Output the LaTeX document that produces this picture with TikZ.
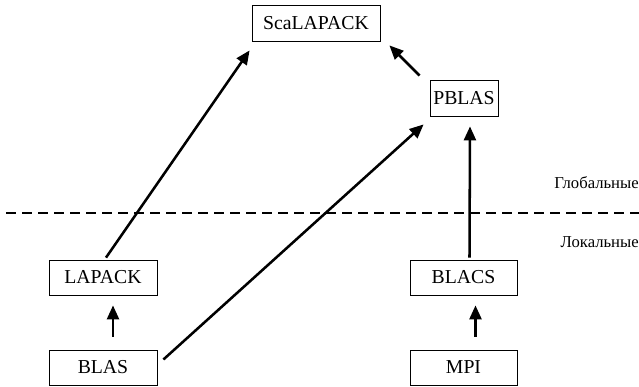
\documentclass[tikz,border=0pt]{standalone}
\usepackage{fontspec}
\setmainfont{Liberation Serif}
\usetikzlibrary{arrows.meta,calc}
\begin{document}
\begin{tikzpicture}[x=0.75pt,y=-0.75pt,
  box/.style={draw,line width=0.6pt,inner sep=0pt,font=\fontsize{14.8}{17}\selectfont},
  arr/.style={line width=1.9pt,-{Triangle[length=10.5pt,width=9pt]}},
  lbl/.style={font=\fontsize{12.5}{15}\selectfont,anchor=east,inner sep=0pt}]
\useasboundingbox (0,0) rectangle (639,386);
\node[box,minimum width=128*0.75pt,minimum height=36*0.75pt] (sca) at (316,23) {ScaLAPACK};
\node[box,minimum width=68*0.75pt,minimum height=36*0.75pt] (pblas) at (464,98) {PBLAS};
\node[box,minimum width=108*0.75pt,minimum height=35*0.75pt] (lapack) at (103,277.5) {LAPACK};
\node[box,minimum width=108*0.75pt,minimum height=35*0.75pt] (blas) at (103,367.5) {BLAS};
\node[box,minimum width=107*0.75pt,minimum height=35*0.75pt] (blacs) at (463.5,277.5) {BLACS};
\node[box,minimum width=107*0.75pt,minimum height=35*0.75pt] (mpi) at (463.5,367.5) {MPI};
\node[lbl] (glob) at (639,183) {Глобальные};
\node[lbl] (loc) at (639,242) {Локальные};
\coordinate (dl) at (6,213);
\coordinate (dr) at (639,213);
\draw[line width=2.2pt,dash pattern=on 7.5pt off 4.5pt] (dl) -- (dr);
\draw[arr] ($(blas.north)+(10,-13)$) -- ($(lapack.south)+(10,10)$);
\draw[arr] ($(mpi.north)+(12,-13)$) -- ($(blacs.south)+(12,10)$);
\draw[arr] ($(lapack.north)+(3,-2)$) -- ($(sca.south west)+(-2,9)$);
\draw[arr] ($(blas.east)+(6,-8)$) -- ($(pblas.south west)+(-6,8)$);
\draw[arr] ($(blacs.north)+(6,-2)$) -- ($(pblas.south)+(6,10)$);
\draw[arr] ($(pblas.north west)+(-10,-4)$) -- ($(sca.south east)+(9,4)$);
\end{tikzpicture}
\end{document}
